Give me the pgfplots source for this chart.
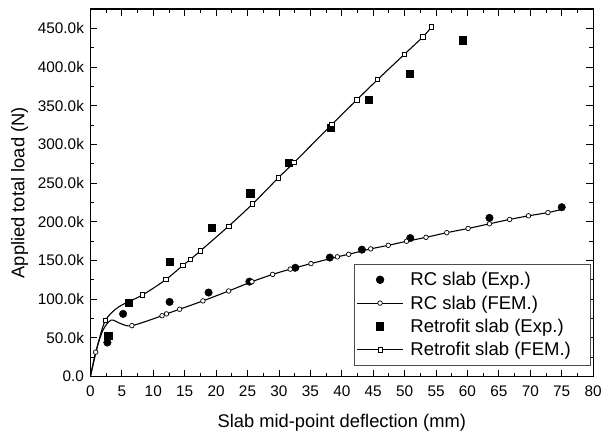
\documentclass[border=0pt]{standalone}
\usepackage{pgfplots}
\pgfplotsset{compat=1.18}
\usepackage{fontspec}
\setmainfont{Liberation Sans}

\begin{document}
\begin{tikzpicture}
\begin{axis}[
  width=506bp, height=370bp, scale only axis,
  xmin=0, xmax=80, ymin=0, ymax=475000,
  xtick={0,5,...,80}, minor x tick num=1,
  ytick={0,50000,...,450000}, minor y tick num=1,
  yticklabels={0.0,50.0k,100.0k,150.0k,200.0k,250.0k,300.0k,350.0k,400.0k,450.0k},
  scaled y ticks=false,
  tick align=inside, xtick pos=both, ytick pos=both,
  xticklabel pos=lower, yticklabel pos=left,
  major tick length=7bp, minor tick length=4bp,
  tick style={black, line width=0.9bp},
  axis line style={line width=1.3bp},
  /pgf/number format/assume math mode=true,
  ticklabel style={font=\fontsize{15.5}{18}\selectfont},
  xticklabel style={yshift=-6bp},
  yticklabel style={xshift=-3bp},
  label style={font=\fontsize{18.5}{22}\selectfont},
  xlabel={Slab mid-point deflection (mm)},
  ylabel={Applied total load (N)},
  xlabel style={yshift=-11bp},
  ylabel style={yshift=3bp},
  legend style={at={(0.996,0.03)}, anchor=south east, draw=black!70,
    line width=0.8bp, font=\fontsize{18.7}{22}\selectfont, cells={anchor=west},
    inner xsep=2bp, inner ysep=6bp, column sep=5bp, row sep=4.5bp},
  legend image code/.code={\draw[#1, mark indices={2}]
    plot coordinates {(0bp,0bp) (23bp,0bp) (46bp,0bp)};},
]
% RC slab, experiment
\addplot[only marks, mark=*, mark size=3.8bp, black] coordinates {
(2.7,44000) (5.2,81000) (12.6,96500) (18.8,108600) (25.3,122700)
(32.6,140600) (38.1,153800) (43.2,164000) (50.9,179000) (63.5,205000)
(75.0,218800)};
% RC slab, FEM (points 1,3,4,5,28 only shape the curve)
\addplot[black, line width=1.1bp, smooth, mark=*, mark size=2.3bp,
  mark options={fill=white, draw=black, line width=0.7bp},
  mark indices={2,6,7,8,9,10,11,12,13,14,15,16,17,18,19,20,21,22,23,24,25,26,27}]
coordinates {
(0,0) (0.84,31600) (2.0,60000) (3.3,73000) (4.8,68500) (6.6,65800)
(11.4,78600) (12.1,81000) (14.2,87000) (17.9,97800) (22.0,110600)
(25.7,122600) (29.0,132000) (31.8,138800) (35.1,146000) (39.3,154700)
(41.1,158000) (44.6,165000) (47.4,169600) (50.3,174800) (53.4,179900)
(56.7,185900) (60.1,191400) (63.5,197400) (66.7,203000) (69.7,207700)
(72.8,211900) (75.0,216000)};
% retrofit slab, experiment
\addplot[only marks, mark=square*, mark size=3.7bp, black] coordinates {
(2.85,52600) (6.1,95700) (12.6,148700) (19.3,192000) (25.4,236800)
(31.6,276500) (38.2,321400) (44.3,357700) (50.8,391000) (59.2,434600)};
% retrofit slab, FEM
\addplot[black, line width=1.1bp, smooth, mark=square*, mark size=2.2bp,
  mark options={fill=white, draw=black, line width=0.7bp},
  mark indices={3,5,6,7,8,9,10,11,12,13,14,15,16,17,18,19}]
coordinates {
(0,0) (1.2,42000) (2.4,72700) (4.5,90000) (8.3,105500) (12.0,125300)
(14.7,143600) (15.9,151300) (17.5,162400) (22.0,194400) (25.8,223000)
(29.9,256800) (32.4,276500) (38.4,325600) (42.4,357700) (45.7,383700)
(50.0,416700) (52.9,438900) (54.3,451700)};
\legend{RC slab (Exp.),RC slab (FEM.),Retrofit slab (Exp.),Retrofit slab (FEM.)\hspace*{16bp}}
\end{axis}
\path[use as bounding box] ([shift={(-91bp,-57bp)}]current axis.south west)
  rectangle ([shift={(8bp,9bp)}]current axis.north east);
\end{tikzpicture}
\end{document}
